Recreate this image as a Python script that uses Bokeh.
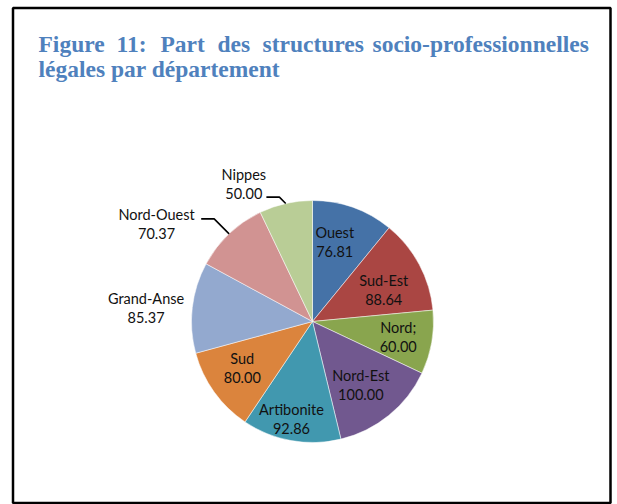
import numpy as np
from bokeh.plotting import figure
from bokeh.models import ColumnDataSource
from bokeh.core.properties import value
from bokeh.embed import file_html
from bokeh.resources import INLINE

# ---------------- data ----------------
departments = ["Ouest", "Sud-Est", "Nord;", "Nord-Est", "Artibonite", "Sud",
               "Grand-Anse", "Nord-Ouest", "Nippes"]
shares = [76.81, 88.64, 60.00, 100.00, 92.86, 80.00, 85.37, 70.37, 50.00]
colors = ["#4572A7", "#AA4643", "#89A54E", "#71588F", "#4198AF", "#DB843D",
          "#93A9CF", "#D19392", "#B9CD96"]

title_line1 = ["Figure", "11:", "Part", "des", "structures", "socio-professionnelles"]
title_line2 = "légales par département"

# ---------------- layout (pixels) ----------------
W, H = 617, 504
def X(img_x):
    return img_x
def Y(img_y):
    return H - img_y

cx, cy, R = X(312), Y(321), 121
# label distance from centre and angular nudge (degrees) per slice
label_dist = [82.5, 78, 87, 80, 100, 84, 167, 184, 154]
label_adj = [-4, 4, 0, 2, 2, 2.4, -2, -14.4, -13.7]
# leader lines: slice index -> vertical offset of the horizontal part from label centre
leaders = {7: 5, 8: -13.5}
title_x = [38, 116, 160, 217, 262, 372]

p = figure(width=W, height=H, x_range=(0, W), y_range=(0, H),
           output_backend="svg", toolbar_location=None, min_border=0)
p.axis.visible = False
p.grid.visible = False
p.outline_line_color = None
p.background_fill_color = "white"
p.border_fill_color = "white"

# border
p.quad(left=X(12.5), right=X(610), bottom=Y(502.5), top=Y(7.5), fill_color=None,
       line_color="black", line_width=2.5)

# pie
vals = np.array(shares)
total = vals.sum()
cum = np.concatenate([[0], np.cumsum(vals)])
start = np.pi / 2 - 2 * np.pi * cum[:-1] / total
end = np.pi / 2 - 2 * np.pi * cum[1:] / total
mid_deg = 360 * (cum[:-1] + vals / 2) / total  # clockwise from top

src = ColumnDataSource(dict(start=start, end=end, color=colors))
p.wedge(x=cx, y=cy, radius=R, start_angle="start", end_angle="end",
        direction="clock", fill_color="color", line_color="white",
        line_width=0.5, source=src)

# labels
th = np.radians(mid_deg + np.array(label_adj))
lx = cx + np.array(label_dist) * np.sin(th)
ly = cy + np.array(label_dist) * np.cos(th)
font = value("Lato")
p.text(x=lx, y=ly + 9.5, text=departments, text_font=font, text_font_size="14.5px",
       text_align="center", text_baseline="middle", text_color="#111111")
p.text(x=lx, y=ly - 9.5, text=[f"{v:.2f}" for v in shares], text_font=font,
       text_font_size="14.5px", text_align="center", text_baseline="middle",
       text_color="#111111")

# leader lines
for i, off in leaders.items():
    m = np.radians(mid_deg[i])
    ex, ey = cx + R * np.sin(m), cy + R * np.cos(m)
    yl = ly[i] + off
    k = yl - ey
    bx = ex - k
    p.line(x=[ex, bx, bx - 13], y=[ey, yl, yl], line_color="black", line_width=1.6)

# title
tfont = value("Liberation Serif")
p.text(x=[X(v) for v in title_x], y=[Y(43)] * len(title_line1), text=title_line1,
       text_font=tfont, text_font_size="23.5px", text_font_style="bold",
       text_color="#4F81BD", text_align="left", text_baseline="alphabetic")
p.text(x=[X(38)], y=[Y(68)], text=[title_line2],
       text_font=tfont, text_font_size="23.5px", text_font_style="bold",
       text_color="#4F81BD", text_align="left", text_baseline="alphabetic")

open("out.html", "w").write(file_html(p, INLINE))
